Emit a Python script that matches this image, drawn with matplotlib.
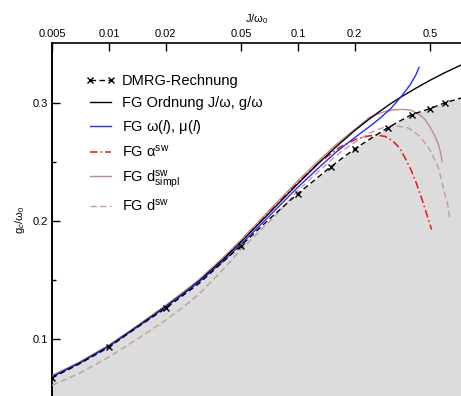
import numpy as np
import matplotlib
matplotlib.use("Agg")
import matplotlib.pyplot as plt
from matplotlib.ticker import FixedLocator, FixedFormatter

plt.rcParams["font.family"] = ["Liberation Sans", "DejaVu Sans"]
plt.rcParams["mathtext.fontset"] = "custom"
plt.rcParams["mathtext.rm"] = "Liberation Sans"
plt.rcParams["mathtext.it"] = "Liberation Sans:italic"

# ---- data ----
# DMRG (line points, markers only at the computed ones)
dmrg_J = [0.005, 0.007, 0.01, 0.014, 0.02, 0.03, 0.05, 0.07, 0.1, 0.15, 0.2, 0.3, 0.4, 0.5, 0.6, 0.73]
dmrg_g = [0.067, 0.079, 0.093, 0.1095, 0.126, 0.147, 0.179, 0.201, 0.223, 0.246, 0.261, 0.279, 0.290, 0.295, 0.300, 0.304]
dmrg_marks = [0, 2, 4, 6, 8, 9, 10, 11, 12, 13, 14]

# FG Ordnung J/w, g/w
ord_J = [0.005, 0.007, 0.01, 0.014, 0.02, 0.025, 0.03, 0.04, 0.05, 0.07, 0.1, 0.13, 0.16, 0.2,
         0.24, 0.27, 0.31, 0.35, 0.42, 0.5, 0.6, 0.73]
ord_g = [0.068, 0.0797, 0.094, 0.110, 0.1275, 0.139, 0.149, 0.167, 0.182, 0.206, 0.2315, 0.2495, 0.263, 0.2765,
         0.2865, 0.2925, 0.2993, 0.3047, 0.3122, 0.319, 0.3255, 0.3319]

# FG omega(l), mu(l)
om_J = [0.005, 0.007, 0.01, 0.014, 0.02, 0.025, 0.03, 0.04, 0.05, 0.07, 0.1, 0.13, 0.16, 0.2,
        0.24, 0.27, 0.31, 0.35, 0.392, 0.421, 0.438]
om_g = [0.068, 0.0795, 0.0937, 0.1096, 0.127, 0.1384, 0.1482, 0.1655, 0.180, 0.2035, 0.2285, 0.2455, 0.2585, 0.2705,
        0.280, 0.2865, 0.295, 0.3047, 0.315, 0.3235, 0.330]

# FG alpha^sw
al_J = [0.005, 0.007, 0.01, 0.014, 0.02, 0.025, 0.03, 0.04, 0.05, 0.07, 0.1, 0.13, 0.167, 0.204,
        0.235, 0.26, 0.29, 0.319, 0.346, 0.37, 0.40, 0.424, 0.45, 0.48, 0.51]
al_g = [0.068, 0.0799, 0.0942, 0.1103, 0.128, 0.1396, 0.1497, 0.1678, 0.183, 0.2072, 0.2325, 0.2495, 0.2625, 0.2693,
        0.2718, 0.2726, 0.2715, 0.2675, 0.2615, 0.253, 0.242, 0.2317, 0.220, 0.206, 0.1927]

# FG d^sw_simpl
ds_J = [0.005, 0.007, 0.01, 0.014, 0.02, 0.025, 0.03, 0.04, 0.05, 0.07, 0.1, 0.13, 0.16, 0.2,
        0.24, 0.28, 0.32, 0.365, 0.40, 0.443, 0.47, 0.5, 0.53, 0.552, 0.568, 0.58]
ds_g = [0.069, 0.0805, 0.0948, 0.1108, 0.1285, 0.1402, 0.1503, 0.1685, 0.1838, 0.2083, 0.234, 0.2515, 0.2648, 0.2775,
        0.2878, 0.292, 0.294, 0.2944, 0.2935, 0.2896, 0.286, 0.2797, 0.272, 0.2656, 0.2585, 0.250]

# FG d^sw
d_J = [0.005, 0.007, 0.01, 0.014, 0.02, 0.025, 0.03, 0.04, 0.05, 0.075, 0.1, 0.13, 0.16, 0.2,
       0.24, 0.283, 0.33, 0.385, 0.443, 0.5, 0.552, 0.587, 0.624, 0.637]
d_g = [0.0607, 0.071, 0.0847, 0.0995, 0.116, 0.1275, 0.138, 0.1585, 0.1755, 0.2035, 0.2255, 0.2425, 0.2555, 0.2665,
       0.2745, 0.279, 0.2805, 0.2786, 0.2715, 0.260, 0.2458, 0.2288, 0.212, 0.2015]

xticks = [0.005, 0.01, 0.02, 0.05, 0.1, 0.2, 0.5]
xtick_labels = ["0.005", "0.01", "0.02", "0.05", "0.1", "0.2", "0.5"]
yticks = [0.1, 0.2, 0.3]
ytick_labels = ["0.1", "0.2", "0.3"]
yminor = [0.15, 0.25]

fig = plt.figure(figsize=(4.61, 3.96), dpi=100)
ax = fig.add_axes([52 / 461, 0.0, 1 - 52 / 461, 1 - 43 / 396])
ax.set_xscale("log")
ax.set_xlim(0.005, 0.73)
ax.set_ylim(0.0517, 0.3506)

# gray region below the DMRG curve
ax.fill_between(dmrg_J, dmrg_g, 0.0, color="#dcdcdc", lw=0, zorder=0)

ax.plot(dmrg_J, dmrg_g, color="black", lw=1.0, dashes=(4, 2.5), marker="x",
        ms=4, mew=1.0, markevery=dmrg_marks, label="DMRG-Rechnung", zorder=5)
ax.plot(ord_J, ord_g, color="black", lw=1.0, label="FG Ordnung J/ω, g/ω", zorder=4)
ax.plot(om_J, om_g, color="#1f2fff", lw=1.0, label=r"FG ω($\it{l}$), μ($\it{l}$)", zorder=4)
ax.plot(al_J, al_g, color="#ee1111", lw=1.1, dashes=(5, 2, 1, 2), label=r"FG $\mathrm{α}^{\mathrm{sw}}$", zorder=3)
ax.plot(ds_J, ds_g, color="#c08c8c", lw=1.0, label=r"FG $\mathrm{d}^{\mathrm{sw}}_{\mathrm{simpl}}$", zorder=3)
ax.plot(d_J, d_g, color="#c49a9a", lw=1.0, dashes=(4.5, 2.5), label=r"FG $\mathrm{d}^{\mathrm{sw}}$", zorder=3)

# axes styling: only top and left spines are visible in the crop
ax.spines["right"].set_visible(False)
ax.spines["bottom"].set_visible(False)
ax.spines["left"].set_linewidth(1.4)
ax.spines["top"].set_linewidth(1.2)

ax.xaxis.set_ticks_position("top")
ax.xaxis.set_label_position("top")
ax.xaxis.set_major_locator(FixedLocator(xticks))
ax.xaxis.set_major_formatter(FixedFormatter(xtick_labels))
ax.xaxis.set_minor_locator(FixedLocator([]))
ax.yaxis.set_major_locator(FixedLocator(yticks))
ax.yaxis.set_major_formatter(FixedFormatter(ytick_labels))
ax.yaxis.set_minor_locator(FixedLocator(yminor))
ax.tick_params(which="major", direction="in", length=5.8, width=1.0, labelsize=8, pad=3)
ax.tick_params(which="minor", direction="in", length=3.0, width=1.0)

ax.set_xlabel(r"J/ω$_0$", fontsize=8, labelpad=5)
ax.set_ylabel(r"g$_c$/ω$_0$", fontsize=8, labelpad=4)

leg = ax.legend(loc="upper left", bbox_to_anchor=(34 / 409, 1 - 31 / 353), frameon=False,
                fontsize=10.5, handlelength=2.0, handletextpad=0.48, labelspacing=0.55,
                numpoints=2, borderpad=0, borderaxespad=0)

fig.savefig("out.png", dpi=100)
